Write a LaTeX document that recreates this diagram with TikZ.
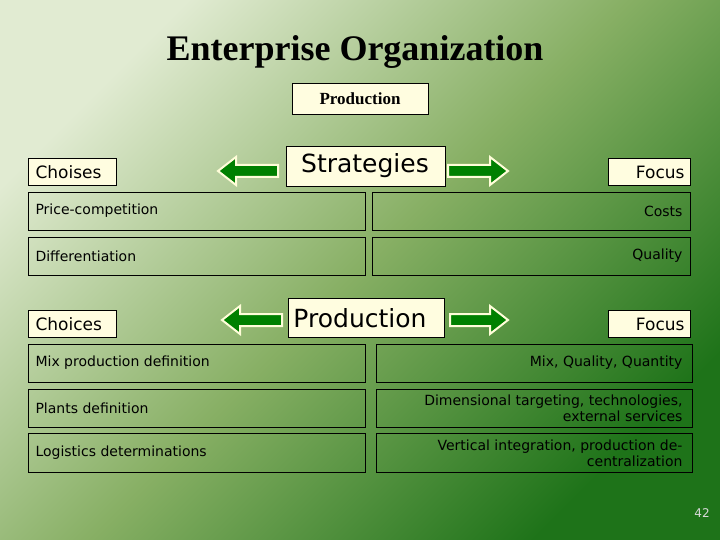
\documentclass[tikz,border=0pt]{standalone}
\usepackage{fontspec}
\setmainfont{Liberation Serif}
\newfontfamily\tah{DejaVu Sans}
\usetikzlibrary{shadings}
\definecolor{bgA}{RGB}{225,235,210}
\definecolor{bgB}{RGB}{30,115,25}
\definecolor{bgM}{RGB}{135,175,100}
\begin{document}
\begin{tikzpicture}[x=1pt,y=-1pt,
  bx/.style={draw=black,line width=0.8pt,inner sep=0pt},
  yb/.style={bx,fill=yellow!12},
  tl/.style={font=\tah\fontsize{14}{16}\selectfont,text=black},
  arr/.style={fill=green!50!black,draw=yellow!15,line width=2pt}]
\shade[shading=axis,top color=bgA,bottom color=bgB,middle color=bgM,shading angle=45] (0,0) rectangle (720,540);
\node[font=\bfseries\fontsize{36}{40}\selectfont] (title) at (355,52) {Enterprise Organization};
\draw[yb] (292,83) rectangle (428,114);
\node[font=\bfseries\fontsize{17}{18}\selectfont] (prod) at (360,99) {Production};
% row 1
\draw[yb] (28,158) rectangle (116,185); \node[anchor=west,font=\tah\fontsize{17}{18}\selectfont] (ch1) at (32,172) {Choises};
\draw[yb] (286,146) rectangle (445,186); \node[font=\tah\fontsize{25}{26}\selectfont] (str) at (365,166) {Strategies};
\draw[yb] (608,158) rectangle (690,185); \node[anchor=east,font=\tah\fontsize{17}{18}\selectfont] (f1) at (688,172) {Focus};
\draw[arr] (218,171) -- (236,157) -- (236,165) -- (278,165) -- (278,177) -- (236,177) -- (236,185) -- cycle;
\draw[arr] (508,171) -- (490,157) -- (490,165) -- (448,165) -- (448,177) -- (490,177) -- (490,185) -- cycle;
\draw[bx] (28,192) rectangle (365,230); \node[tl,anchor=west] (pc) at (32,211) {Price-competition};
\draw[bx] (372,192) rectangle (690,230); \node[tl,anchor=east] (co) at (686,211) {Costs};
\draw[bx] (28,237) rectangle (365,275); \node[tl,anchor=west] (di) at (32,256) {Differentiation};
\draw[bx] (372,237) rectangle (690,275); \node[tl,anchor=east] (qu) at (686,256) {Quality};
% row 2
\draw[yb] (28,310) rectangle (116,337); \node[anchor=west,font=\tah\fontsize{17}{18}\selectfont] (ch2) at (32,324) {Choices};
\draw[yb] (288,298) rectangle (444,337); \node[font=\tah\fontsize{25}{26}\selectfont] (pr2) at (360,318) {Production};
\draw[yb] (608,310) rectangle (690,337); \node[anchor=east,font=\tah\fontsize{17}{18}\selectfont] (f2) at (688,324) {Focus};
\draw[arr] (222,320) -- (240,306) -- (240,314) -- (282,314) -- (282,326) -- (240,326) -- (240,334) -- cycle;
\draw[arr] (508,320) -- (490,306) -- (490,314) -- (450,314) -- (450,326) -- (490,326) -- (490,334) -- cycle;
\draw[bx] (28,344) rectangle (365,382); \node[tl,anchor=west] (m1) at (32,363) {Mix production definition};
\draw[bx] (376,344) rectangle (692,382); \node[tl,anchor=east] (m2) at (686,363) {Mix, Quality, Quantity};
\draw[bx] (28,389) rectangle (365,427); \node[tl,anchor=west] (p1) at (32,408) {Plants definition};
\draw[bx] (376,389) rectangle (692,427); \node[tl,anchor=east,align=right] (p2) at (686,408) {Dimensional targeting, technologies,\\external services};
\draw[bx] (28,433) rectangle (365,472); \node[tl,anchor=west] (l1) at (32,453) {Logistics determinations};
\draw[bx] (376,433) rectangle (692,472); \node[tl,anchor=east,align=right] (l2) at (686,453) {Vertical integration, production de-\\centralization};
\node[font=\tah\fontsize{12}{14}\selectfont,text=white!85!black] (n) at (702,513) {42};
\end{tikzpicture}
\end{document}
